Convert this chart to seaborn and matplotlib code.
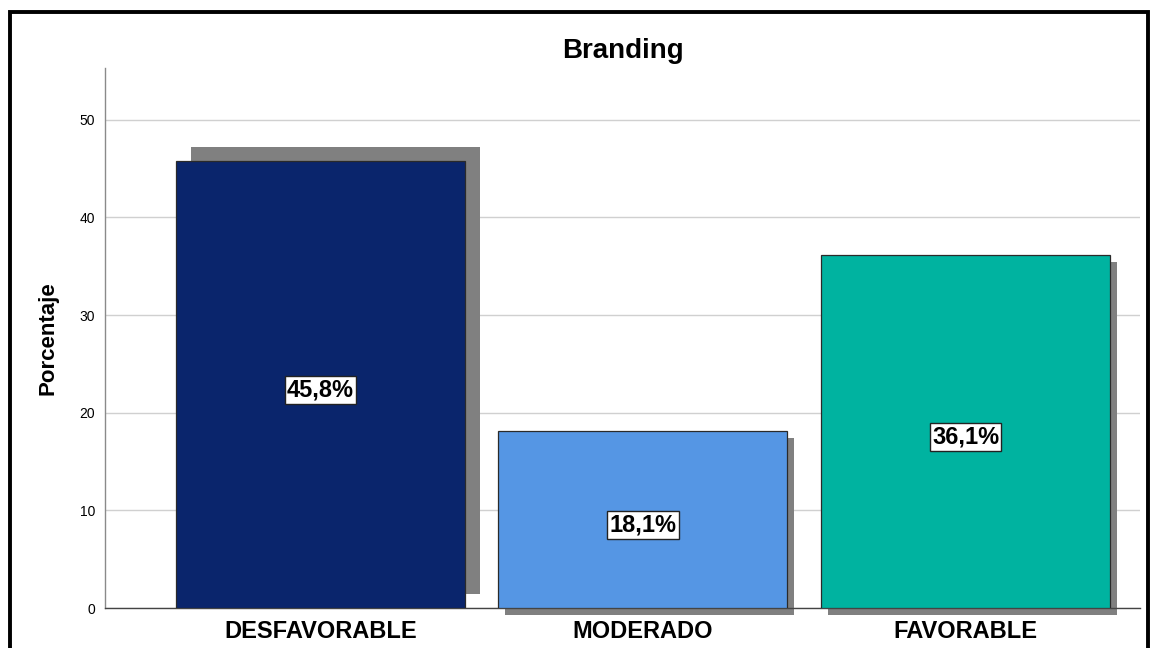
import matplotlib
matplotlib.use("Agg")
import matplotlib.pyplot as plt
import matplotlib.transforms as mtransforms
from matplotlib.patches import Rectangle
import seaborn as sns

# DATA
categories = ["DESFAVORABLE", "MODERADO", "FAVORABLE"]
percentages = [45.8, 18.1, 36.1]
y_ticks = [0, 10, 20, 30, 40, 50]

# Styling
bar_colors = ["#0A256C", "#5596E4", "#00B3A0"]
shadow_color = "#808080"
shadow_px = [(15, 14), (7, -7), (7, -7)]  # odd SPSS-style drop shadows

sns.set_style("white")
plt.rcParams["font.family"] = ["Liberation Sans", "DejaVu Sans"]
plt.rcParams["text.color"] = "black"
plt.rcParams["axes.labelcolor"] = "black"
plt.rcParams["xtick.color"] = "black"
plt.rcParams["ytick.color"] = "black"

fig = plt.figure(figsize=(11.55, 6.48), dpi=100)
ax = fig.add_axes([105 / 1155, 1 - 608 / 648, (1140 - 105) / 1155, (608 - 68) / 648])

ax.yaxis.grid(True, color="#d0d0d0", linewidth=1)
ax.set_axisbelow(True)

sns.barplot(x=categories, y=percentages, hue=categories, palette=bar_colors,
            legend=False, width=0.896, saturation=1, edgecolor="#2a2a2a",
            linewidth=0.9, ax=ax, zorder=3)

# shadows behind each bar
for bar, (dx, dy) in zip(ax.patches, shadow_px):
    tr = mtransforms.offset_copy(ax.transData, fig=fig, x=dx, y=dy, units="dots")
    sh = Rectangle(bar.get_xy(), bar.get_width(), bar.get_height(),
                   transform=tr, facecolor=shadow_color, edgecolor="none",
                   zorder=2, clip_on=False)
    ax.add_patch(sh)

# value labels in white boxes
for bar, v in zip(ax.patches[:len(percentages)], percentages):
    ax.annotate(f"{v:.1f}".replace(".", ",") + "%",
                xy=(bar.get_x() + bar.get_width() / 2, v / 2),
                xytext=(0, -4), textcoords="offset points",
                ha="center", va="center", fontsize=17, fontweight="bold", zorder=5,
                bbox=dict(boxstyle="square,pad=0.1", facecolor="white",
                          edgecolor="#222222", linewidth=1))

ax.set_xlim(-0.668, 2.541)
ax.set_ylim(0, 55.3)
ax.set_yticks(y_ticks)
ax.tick_params(axis="y", length=0, pad=7, labelsize=10)
ax.tick_params(axis="x", length=0, pad=9, labelsize=17)
for lab in ax.get_xticklabels():
    lab.set_fontweight("bold")

ax.set_title("Branding", fontsize=20, fontweight="bold", pad=7)
ax.set_ylabel("Porcentaje", fontsize=16, fontweight="bold", labelpad=15)
ax.set_xlabel("")

for s in ["top", "right"]:
    ax.spines[s].set_visible(False)
ax.spines["left"].set_color("#8a8a8a")
ax.spines["bottom"].set_color("#444444")
ax.spines["left"].set_linewidth(1)
ax.spines["bottom"].set_linewidth(1)

# outer black frame (bottom edge falls outside the image)
fig.patches.append(Rectangle((10 / 1155, -0.1), (1148 - 10) / 1155, 1.1 - 12 / 648,
                             transform=fig.transFigure, fill=False,
                             edgecolor="black", linewidth=2.8, zorder=10))

fig.savefig("out.png", dpi=100)
